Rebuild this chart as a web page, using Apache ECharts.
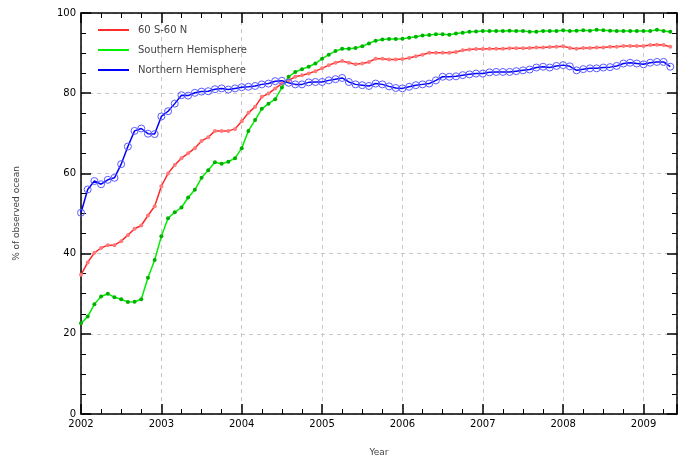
<!DOCTYPE html>
<html>
<head>
<meta charset="utf-8">
<script src="https://cdn.jsdelivr.net/npm/echarts@6/dist/echarts.min.js"></script>
<style>
  html, body { margin: 0; padding: 0; background: #fff; }
  #chart { width: 678px; height: 457px; }
</style>
</head>
<body>
<div id="chart"></div>
<script>
// monthly samples, first one at 2002.0
const startYear = 2002;
const yearTicks = [2002, 2003, 2004, 2005, 2006, 2007, 2008, 2009];

const midLatitudes = [
  34.7, 37.8, 40.2, 41.4, 42.1, 42.1, 43.1, 44.6, 46.2, 47.0, 49.5, 51.8,
  56.8, 60.0, 62.1, 63.8, 65.0, 66.3, 68.1, 69.0, 70.6, 70.6, 70.6, 71.1,
  73.0, 75.1, 76.6, 79.1, 79.9, 81.2, 82.4, 83.2, 84.1, 84.5, 84.9, 85.5,
  86.2, 87.0, 87.6, 88.0, 87.6, 87.2, 87.4, 87.8, 88.6, 88.6, 88.4, 88.4,
  88.5, 88.8, 89.2, 89.6, 90.1, 90.1, 90.1, 90.1, 90.3, 90.7, 90.9, 91.0,
  91.0, 91.1, 91.1, 91.1, 91.2, 91.2, 91.2, 91.3, 91.4, 91.4, 91.5, 91.6,
  91.7, 91.3, 91.1, 91.3, 91.3, 91.4, 91.4, 91.6, 91.6, 91.8, 91.8, 91.8,
  91.8, 92.0, 92.1, 92.0, 91.6
];

const southern = [
  22.6, 24.3, 27.4, 29.3, 30.0, 29.1, 28.6, 27.9, 28.0, 28.6, 34.0, 38.4,
  44.3, 48.8, 50.3, 51.5, 54.0, 55.9, 58.9, 60.8, 62.8, 62.4, 62.9, 63.8,
  66.3, 70.6, 73.3, 76.1, 77.4, 78.5, 81.4, 84.1, 85.3, 86.0, 86.6, 87.4,
  88.6, 89.6, 90.5, 91.1, 91.1, 91.3, 91.7, 92.4, 93.1, 93.4, 93.5, 93.5,
  93.6, 93.8, 94.1, 94.4, 94.5, 94.7, 94.7, 94.6, 94.9, 95.1, 95.3, 95.4,
  95.5, 95.5, 95.5, 95.5, 95.6, 95.5, 95.5, 95.3, 95.3, 95.5, 95.5, 95.5,
  95.7, 95.5, 95.6, 95.7, 95.6, 95.8, 95.7, 95.6, 95.5, 95.5, 95.5, 95.5,
  95.5, 95.5, 95.8, 95.5, 95.3
];

const northern = [
  50.2, 56.0, 58.1, 57.3, 58.4, 58.9, 62.3, 66.7, 70.6, 71.2, 69.9, 69.8,
  74.2, 75.5, 77.4, 79.5, 79.4, 80.1, 80.4, 80.5, 81.0, 81.2, 80.9, 81.2,
  81.5, 81.6, 81.8, 82.2, 82.4, 83.0, 83.1, 82.6, 82.2, 82.2, 82.7, 82.8,
  82.8, 83.2, 83.5, 83.8, 82.8, 82.2, 82.0, 81.8, 82.4, 82.2, 81.7, 81.3,
  81.2, 81.6, 82.0, 82.2, 82.4, 83.2, 84.1, 84.1, 84.2, 84.5, 84.7, 84.9,
  84.9, 85.2, 85.3, 85.3, 85.3, 85.5, 85.7, 85.9, 86.4, 86.6, 86.4, 86.8,
  87.0, 86.7, 85.7, 86.0, 86.2, 86.2, 86.4, 86.5, 86.8, 87.4, 87.6, 87.4,
  87.2, 87.6, 87.8, 87.8, 86.6
];

function toPairs(values) {
  return values.map(function (v, i) {
    return [startYear + i / 12, v];
  });
}

const labelFont = { color: "#000", fontSize: 10, fontFamily: "DejaVu Sans" };
const gridDash = { color: "#c8c8c8", type: [4, 4], width: 1 };

const xMax = startYear + 89 / 12;

function xAxisCommon(pos) {
  return {
    type: "value",
    position: pos,
    min: startYear,
    max: xMax,
    interval: 1,
    axisLine: { show: true, onZero: false, lineStyle: { color: "#000", width: 1.5 } },
    axisTick: { show: true, inside: true, length: 10, lineStyle: { color: "#000", width: 1.5 } },
    minorTick: { show: true, splitNumber: 4, length: 5, lineStyle: { color: "#000", width: 1 } },
    splitLine: { show: false },
    axisLabel: { show: false },
  };
}

function yAxisCommon(pos) {
  return {
    type: "value",
    position: pos,
    min: 0,
    max: 100,
    interval: 20,
    axisLine: { show: true, onZero: false, lineStyle: { color: "#000", width: 1.5 } },
    axisTick: { show: true, inside: true, length: 10, lineStyle: { color: "#000", width: 1.5 } },
    minorTick: { show: true, splitNumber: 4, length: 5, lineStyle: { color: "#000", width: 1 } },
    splitLine: { show: false },
    axisLabel: { show: false },
  };
}

const bottomAxis = xAxisCommon("bottom");
bottomAxis.name = "Year";
bottomAxis.nameLocation = "middle";
bottomAxis.nameGap = 34;
bottomAxis.nameTextStyle = { color: "#444", fontSize: 9, fontFamily: "DejaVu Sans" };
bottomAxis.splitLine = { show: true, lineStyle: gridDash };
bottomAxis.axisLabel = {
  show: true,
  margin: 5,
  ...labelFont,
  formatter: function (v) {
    return yearTicks.indexOf(v) >= 0 ? String(v) : "";
  },
};

const leftAxis = yAxisCommon("left");
leftAxis.name = "% of observed ocean";
leftAxis.nameLocation = "middle";
leftAxis.nameGap = 60;
leftAxis.nameTextStyle = { color: "#444", fontSize: 9, fontFamily: "DejaVu Sans" };
leftAxis.splitLine = { show: true, lineStyle: gridDash };
leftAxis.axisLabel = { show: true, margin: 5, ...labelFont };

const chart = echarts.init(document.getElementById("chart"));
chart.setOption({
  animation: false,
  backgroundColor: "#fff",
  grid: { left: 81, right: 1, top: 13, bottom: 43, outerBoundsMode: "none", containLabel: false },
  legend: {
    orient: "vertical",
    left: 93,
    top: 20,
    icon: "rect",
    itemWidth: 31,
    itemHeight: 2,
    itemGap: 10,
    textStyle: { color: "#444", fontSize: 10, fontFamily: "DejaVu Sans", padding: [0, 0, 0, 4] },
    data: [
      { name: "60 S-60 N", itemStyle: { color: "#ff2a2a", borderWidth: 0 } },
      { name: "Southern Hemisphere", itemStyle: { color: "#00ee00", borderWidth: 0 } },
      { name: "Northern Hemisphere", itemStyle: { color: "#0000ff", borderWidth: 0 } },
    ],
  },
  xAxis: [bottomAxis, xAxisCommon("top")],
  yAxis: [leftAxis, yAxisCommon("right")],
  series: [
    {
      name: "60 S-60 N",
      type: "line",
      data: toPairs(midLatitudes),
      color: "#ff2a2a",
      lineStyle: { color: "#ff2a2a", width: 1.5 },
      symbol: "circle",
      symbolSize: 4,
      itemStyle: { color: "#ff7a7a", borderWidth: 0 },
    },
    {
      name: "Southern Hemisphere",
      type: "line",
      data: toPairs(southern),
      color: "#00ee00",
      lineStyle: { color: "#00ee00", width: 1.5 },
      symbol: "circle",
      symbolSize: 4,
      itemStyle: { color: "#00b000", borderWidth: 0 },
    },
    {
      name: "Northern Hemisphere",
      type: "line",
      data: toPairs(northern),
      color: "#0000ff",
      lineStyle: { color: "#0000ff", width: 1.5 },
      symbol: "circle",
      symbolSize: 7,
      itemStyle: { color: "rgba(0,0,0,0)", borderColor: "#5a5aff", borderWidth: 1 },
    },
  ],
});
</script>
</body>
</html>
